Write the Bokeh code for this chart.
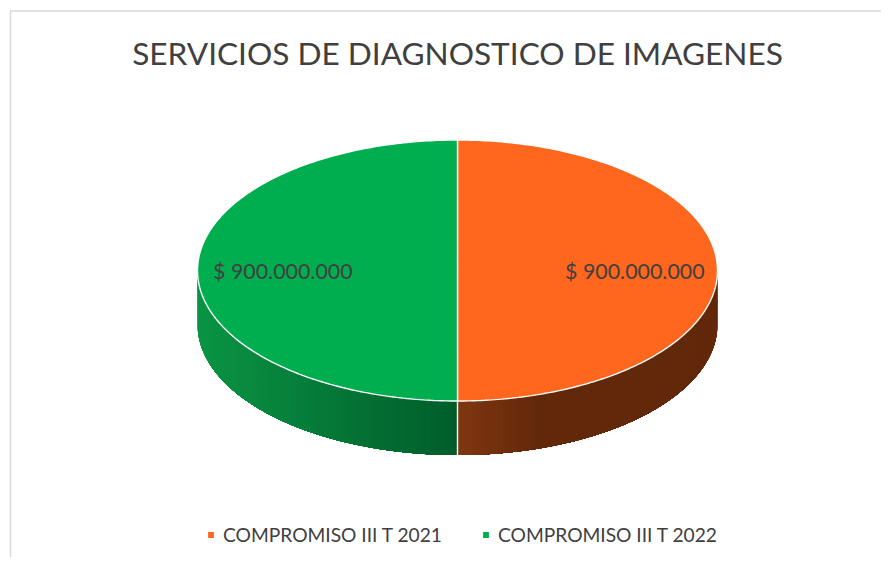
import math
from bokeh.embed import file_html
from bokeh.resources import INLINE
from bokeh.plotting import figure
from bokeh.models import Range1d, Legend, LegendItem
from bokeh.core.properties import value

TITLE = "SERVICIOS DE DIAGNOSTICO DE IMAGENES"
categories = ["COMPROMISO III T 2021", "COMPROMISO III T 2022"]
amounts = [900000000, 900000000]
labels = ["$ 900.000.000", "$ 900.000.000"]
top_colors = ["#FF671F", "#00AE4F"]

# pie geometry in picture pixels
CX, CY, RX, RY, DEPTH = 457.0, 270.0, 260.0, 130.5, 54.0


def side_color(x, i):
    if i == 0:  # orange side: dark brown, lighter towards the centre
        t = min(1.0, (x - CX) / 85.0)
        a, b = (128, 55, 16), (98, 40, 10)
    else:  # green side: darkest at the centre
        t = (CX - x) / RX
        a, b = (0, 92, 42), (10, 148, 68)
    return "#%02x%02x%02x" % tuple(round(a[k] + (b[k] - a[k]) * t) for k in range(3))


p = figure(width=881, height=557, output_backend="svg", toolbar_location=None,
           x_range=Range1d(0, 881), y_range=Range1d(557, 0),
           min_border=0, min_border_left=0, min_border_right=0,
           min_border_top=0, min_border_bottom=0)
p.axis.visible = False
p.grid.visible = False
p.outline_line_color = None

# chart frame
p.line([10, 10, 881], [557, 10.5, 10.5], line_color="#D9D9D9", line_width=1.5)


def pt(a, dy=0.0):
    # a = clockwise angle from 12 o'clock
    return CX + RX * math.sin(a), CY + dy - RY * math.cos(a)


total = sum(amounts)
start = 0.0
wedges = []
for i, v in enumerate(amounts):
    end = start + 2 * math.pi * v / total
    wedges.append((start, end))
    start = end

FRONT = math.pi  # the wall's shading runs from the sides to the front centre
for i, (a0, a1) in enumerate(wedges):
    lo, hi = max(a0, math.pi / 2), min(a1, 3 * math.pi / 2)
    outer = lo if i == 0 else hi
    n = 90
    for k in range(n):
        u = outer + (FRONT - outer) * k / n
        steps = [u + (FRONT - u) * j / 40 for j in range(41)]
        top = [pt(s) for s in steps]
        bot = [pt(s, DEPTH) for s in reversed(steps)]
        pts = top + bot
        p.patch([q[0] for q in pts], [q[1] for q in pts],
                fill_color=side_color(pt(u)[0], i), line_color=None)

# top face
items = []
for i, (a0, a1) in enumerate(wedges):
    n = 240
    xs, ys = [CX], [CY]
    for k in range(n + 1):
        x, y = pt(a0 + (a1 - a0) * k / n)
        xs.append(x)
        ys.append(y)
    r = p.patch(xs, ys, fill_color=top_colors[i], line_color="white", line_width=1.4)
    items.append(LegendItem(label=categories[i], renderers=[r]))

# white seam down the front of the wall
xf, yf = pt(math.pi)
p.line([xf, xf], [yf, yf + DEPTH], line_color="white", line_width=1.4)

# value labels
p.text([564.5, 212.5], [270.5, 270.5], text=labels, text_font=value("Lato"), text_font_size="21.4px",
       text_color="#404040", text_align="left", text_baseline="middle")

# title
p.text([457], [52.5], text=[TITLE], text_font=value("Lato"), text_font_size="31.6px",
       text_color="#404040", text_align="center", text_baseline="middle")

legend = Legend(items=items, orientation="horizontal", location=(206, 11),
                border_line_color=None, background_fill_alpha=0, margin=0, padding=0,
                glyph_width=9, glyph_height=9, label_standoff=8, spacing=39,
                label_text_font="Lato", label_text_font_size="19.2px", label_text_color="#404040",
                label_height=20)
p.add_layout(legend)

open("out.html", "w").write(file_html(p, INLINE))
